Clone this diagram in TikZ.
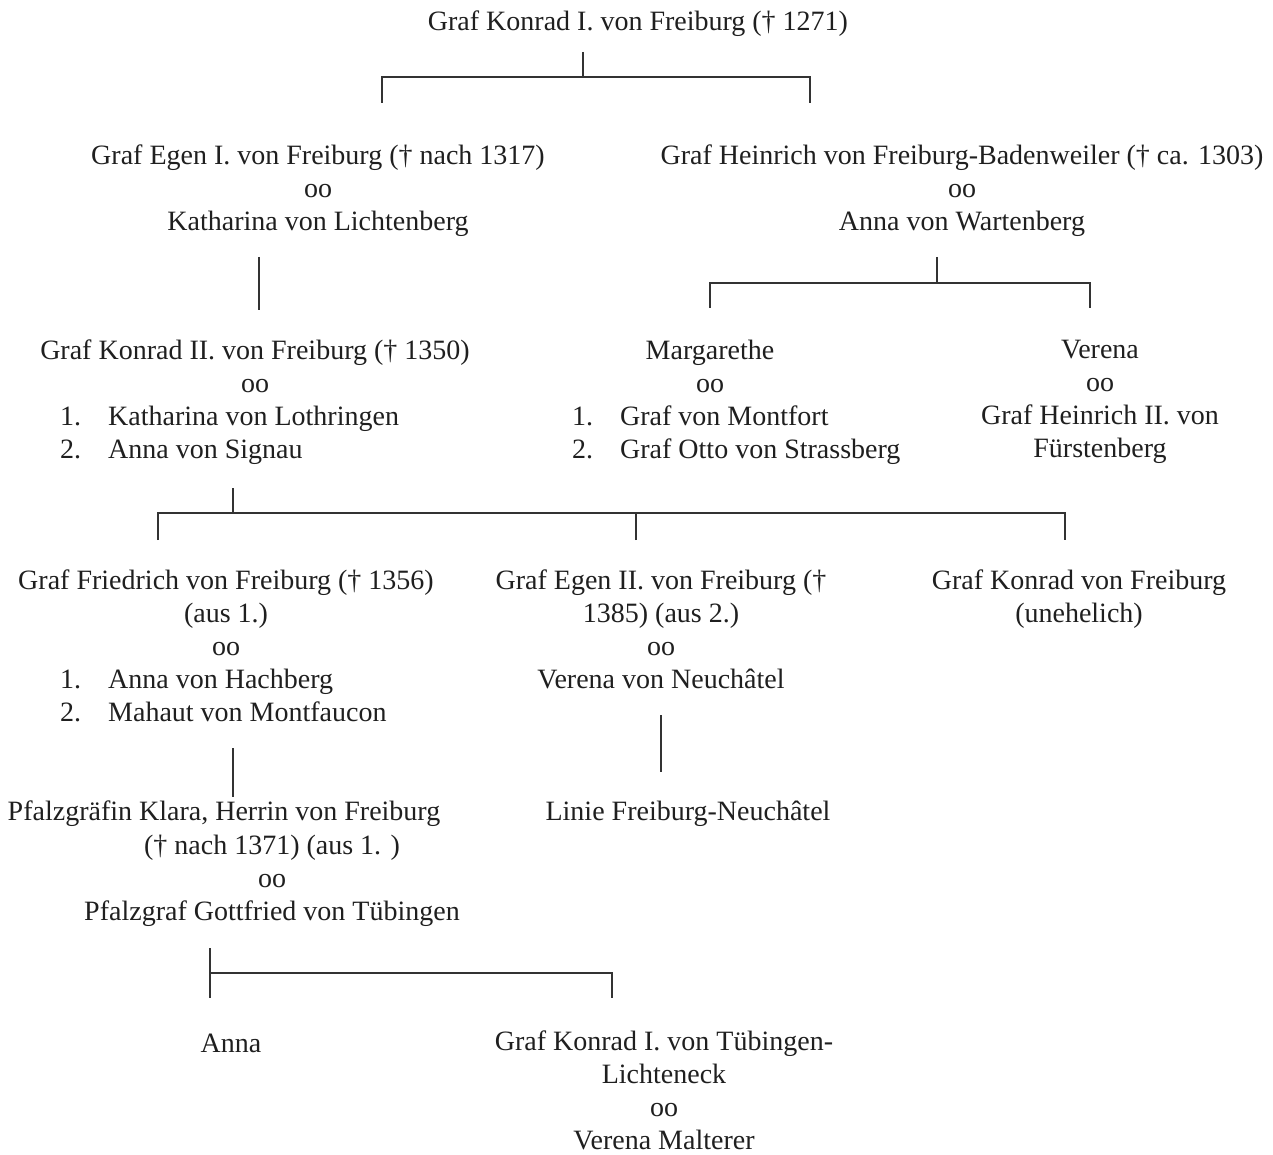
\documentclass[tikz,border=0pt]{standalone}
\usepackage{fontspec}
\setmainfont{Liberation Serif}
\usetikzlibrary{positioning}
\newcommand{\nr}[1]{\makebox[48pt][l]{#1}}
\tikzset{
  person/.style={anchor=north, align=center, inner sep=0pt, text=black!88,
    font=\fontsize{28}{33}\selectfont, execute at begin node=\strut},
  spouses/.style={person, anchor=north west, align=left},
  link/.style={draw=black!80, line width=1.5pt},
}
\begin{document}
\begin{tikzpicture}[x=1pt, y=-1pt]
    \useasboundingbox (0,0) rectangle (1273,1155);
    % Generation 1
    \node[person] (konrad1) at (638,7) {Graf Konrad I. von Freiburg († 1271)};
    % Generation 2
    \node[person] (egen1) at (318,145) {Graf Egen I. von Freiburg († nach 1317)\\oo\\Katharina von Lichtenberg};
    \node[person] (heinrich) at (962,145) {Graf Heinrich von Freiburg-Badenweiler († ca. 1303)\\oo\\Anna von Wartenberg};
    % Generation 3
    \node[person] (konrad2) at (255,340) {Graf Konrad II. von Freiburg († 1350)\\oo};
    \node[spouses] (konrad2w) at (60,406) {\nr{1.}Katharina von Lothringen\\\nr{2.}Anna von Signau};
    \node[person] (marg) at (710,340) {Margarethe\\oo};
    \node[spouses] (margw) at (572,406) {\nr{1.}Graf von Montfort\\\nr{2.}Graf Otto von Strassberg};
    \node[person] (verena) at (1100,340) {Verena\\oo\\Graf Heinrich II. von\\Fürstenberg};
    % Generation 4
    \node[person] (friedrich) at (226,570) {Graf Friedrich von Freiburg († 1356)\\(aus 1.)\\oo};
    \node[spouses] (friedrichw) at (60,669) {\nr{1.}Anna von Hachberg\\\nr{2.}Mahaut von Montfaucon};
    \node[person] (egen2) at (661,570) {Graf Egen II. von Freiburg (†\\1385) (aus 2.)\\oo\\Verena von Neuchâtel};
    \node[person] (konradu) at (1079,570) {Graf Konrad von Freiburg\\(unehelich)};
    % Generation 5
    \node[person] (klara) at (224,797) {Pfalzgräfin Klara, Herrin von Freiburg};
    \node[person] (gottfried) at (272,835) {(† nach 1371) (aus 1. )\\oo\\Pfalzgraf Gottfried von Tübingen};
    \node[person] (linie) at (688,797) {Linie Freiburg-Neuchâtel};
    % Generation 6
    \node[person] (anna) at (231,1029) {Anna};
    \node[person] (konradt) at (664,1031) {Graf Konrad I. von Tübingen-\\Lichteneck\\oo\\Verena Malterer};

    % Bracket under Konrad I
    \coordinate (k1top) at (583,52);
    \coordinate (k1bar) at (583,77);
    \coordinate (egen1top) at (382,103);
    \coordinate (heinrichtop) at (810,103);
    \draw[link] (k1top) -- (k1bar);
    \draw[link] (egen1top) |- (k1bar) -| (heinrichtop);
    % Egen I to Konrad II
    \coordinate (e1bot) at (259,257);
    \coordinate (konrad2top) at (259,310);
    \draw[link] (e1bot) -- (konrad2top);
    % Bracket under Heinrich
    \coordinate (h1top) at (937,257);
    \coordinate (h1bar) at (937,283);
    \coordinate (margtop) at (710,308);
    \coordinate (verenatop) at (1090,308);
    \draw[link] (h1top) -- (h1bar);
    \draw[link] (margtop) |- (h1bar) -| (verenatop);
    % Bracket under Konrad II
    \coordinate (k2top) at (233,488);
    \coordinate (k2bar) at (233,513);
    \coordinate (friedrichtop) at (158,540);
    \coordinate (egen2top) at (636,540);
    \coordinate (konradutop) at (1065,540);
    \draw[link] (k2top) -- (k2bar);
    \draw[link] (friedrichtop) |- (k2bar) -| (konradutop);
    \draw[link] (egen2top) -- (egen2top |- k2bar);
    % Friedrich to Klara, Egen II to Linie
    \coordinate (fbot) at (233,748);
    \coordinate (klaratop) at (233,797);
    \draw[link] (fbot) -- (klaratop);
    \coordinate (e2bot) at (661,715);
    \coordinate (linietop) at (661,772);
    \draw[link] (e2bot) -- (linietop);
    % Bracket under Klara
    \coordinate (kltop) at (210,948);
    \coordinate (klbar) at (210,973);
    \coordinate (annatop) at (210,998);
    \coordinate (konradttop) at (612,998);
    \draw[link] (kltop) -- (annatop);
    \draw[link] (klbar) -| (konradttop);
\end{tikzpicture}
\end{document}
